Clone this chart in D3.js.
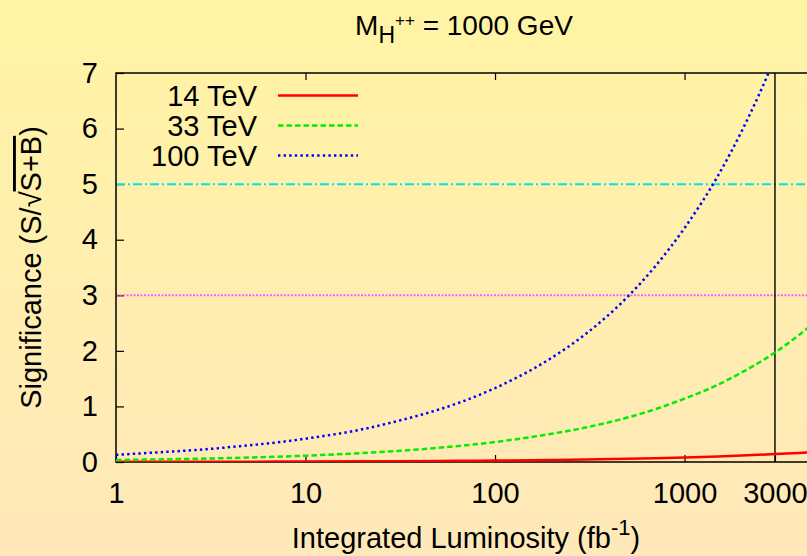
<!DOCTYPE html>
<html>
<head>
<meta charset="utf-8">
<script src="https://cdn.jsdelivr.net/npm/d3@7"></script>
<style>
  html, body { margin: 0; padding: 0; background: #fff; }
  svg { display: block; font-family: "Liberation Sans", Arial, Helvetica, sans-serif; }
</style>
</head>
<body>
<svg id="chart" width="807" height="556"></svg>
<script>
// Integrated luminosity sample points (fb^-1)
const luminosity = [1, 2, 3, 5, 7, 10, 20, 30, 50, 70, 100, 200, 300, 500, 700, 1000, 1500, 2000, 3000, 4000, 5000];
// Significance S/sqrt(S+B) for each collider energy
const sig14TeV  = [0.003, 0.004, 0.005, 0.006, 0.007, 0.008, 0.012, 0.014, 0.018, 0.022, 0.026, 0.037, 0.045, 0.058, 0.069, 0.082, 0.100, 0.116, 0.142, 0.164, 0.184];
const sig33TeV  = [0.036, 0.051, 0.062, 0.080, 0.095, 0.114, 0.161, 0.197, 0.255, 0.300, 0.360, 0.510, 0.620, 0.800, 0.950, 1.140, 1.390, 1.610, 1.970, 2.280, 2.550];
const sig100TeV = [0.13, 0.19, 0.23, 0.30, 0.35, 0.42, 0.59, 0.73, 0.94, 1.11, 1.33, 1.88, 2.30, 2.97, 3.52, 4.21, 5.15, 5.95, 7.28, 8.41, 9.40];

const seriesNames = ["14 TeV", "33 TeV", "100 TeV"];
const xTickValues = [1, 10, 100, 1000, 3000];
const xMirrorTicks = [10, 100, 1000];
const yTickValues = [0, 1, 2, 3, 4, 5, 6, 7];
const discoveryLevel = 5;
const evidenceLevel = 3;
const highLumiTarget = 3000;

const svg = d3.select("#chart");
const W = 807, H = 556;
const plot = { left: 116, right: 817, top: 73, bottom: 462 };

// background gradient
const defs = svg.append("defs");
const grad = defs.append("linearGradient").attr("id", "bg").attr("x1", 0).attr("y1", 0).attr("x2", 0).attr("y2", 1);
grad.append("stop").attr("offset", "0%").attr("stop-color", "#fff4a4");
grad.append("stop").attr("offset", "100%").attr("stop-color", "#ffe8b9");
svg.append("rect").attr("width", W).attr("height", H).attr("fill", "url(#bg)");

defs.append("clipPath").attr("id", "plotclip").append("rect")
  .attr("x", plot.left).attr("y", plot.top)
  .attr("width", plot.right - plot.left).attr("height", plot.bottom - plot.top);

const x = d3.scaleLog().domain([1, 5000]).range([plot.left, plot.right]);
const y = d3.scaleLinear().domain([0, 7]).range([plot.bottom, plot.top]);

const FS = 29;

// axes (ticks drawn inward)
const xAxis = d3.axisBottom(x).tickValues(xTickValues).tickFormat(d3.format("d"))
  .tickSize(-7).tickPadding(20);
const gx = svg.append("g").attr("transform", `translate(0,${plot.bottom})`).call(xAxis);
gx.select(".domain").remove();
gx.selectAll("text").attr("font-size", FS).attr("font-family", null).attr("fill", "#000");
gx.selectAll("line").attr("stroke", "#000").attr("stroke-width", 1.2);

const xTop = d3.axisTop(x).tickValues(xMirrorTicks).tickFormat("").tickSize(-7);
const gxt = svg.append("g").attr("transform", `translate(0,${plot.top})`).call(xTop);
gxt.select(".domain").remove();
gxt.selectAll("line").attr("stroke", "#000").attr("stroke-width", 1.2);

const yAxis = d3.axisLeft(y).tickValues(yTickValues).tickFormat(d3.format("d"))
  .tickSize(-8).tickPadding(18);
const gy = svg.append("g").attr("transform", `translate(${plot.left},0)`).call(yAxis);
gy.select(".domain").remove();
gy.selectAll("text").attr("font-size", FS).attr("font-family", null).attr("fill", "#000");
gy.selectAll("line").attr("stroke", "#000").attr("stroke-width", 1.2);

// reference lines
const plotG = svg.append("g").attr("clip-path", "url(#plotclip)");
plotG.append("line")
  .attr("x1", plot.left).attr("x2", plot.right)
  .attr("y1", y(discoveryLevel)).attr("y2", y(discoveryLevel))
  .attr("stroke", "#00e4e4").attr("stroke-width", 2)
  .attr("stroke-dasharray", "9,3,2,3");
plotG.append("line")
  .attr("x1", plot.left).attr("x2", plot.right)
  .attr("y1", y(evidenceLevel)).attr("y2", y(evidenceLevel))
  .attr("stroke", "#ff5cff").attr("stroke-width", 2)
  .attr("stroke-dasharray", "2,1.5");
plotG.append("line")
  .attr("x1", x(highLumiTarget)).attr("x2", x(highLumiTarget))
  .attr("y1", plot.top).attr("y2", plot.bottom)
  .attr("stroke", "#000").attr("stroke-width", 1.4);

// frame
svg.append("rect")
  .attr("x", plot.left).attr("y", plot.top)
  .attr("width", plot.right - plot.left).attr("height", plot.bottom - plot.top)
  .attr("fill", "none").attr("stroke", "#000").attr("stroke-width", 1.5);

// significance curves
const series = [
  { name: seriesNames[0], values: sig14TeV,  color: "#ff0000", dash: null },
  { name: seriesNames[1], values: sig33TeV,  color: "#00ee00", dash: "5.5,3" },
  { name: seriesNames[2], values: sig100TeV, color: "#0000ff", dash: "2.4,3.2" }
];
const line = d3.line()
  .x(d => x(d[0])).y(d => y(d[1]))
  .curve(d3.curveMonotoneX);
const curvesG = svg.append("g").attr("clip-path", "url(#plotclip)");
series.forEach(s => {
  curvesG.append("path")
    .datum(luminosity.map((l, i) => [l, s.values[i]]))
    .attr("d", line)
    .attr("fill", "none")
    .attr("stroke", s.color)
    .attr("stroke-width", 2.5)
    .attr("stroke-dasharray", s.dash);
});

// legend
const legend = svg.append("g");
series.forEach((s, i) => {
  const yy = 95.5 + i * 30;
  legend.append("text")
    .attr("x", 257).attr("y", yy + 10.3)
    .attr("text-anchor", "end").attr("font-size", FS)
    .text(s.name);
  legend.append("line")
    .attr("x1", 278).attr("x2", 358).attr("y1", yy).attr("y2", yy)
    .attr("stroke", s.color).attr("stroke-width", 2.5)
    .attr("stroke-dasharray", s.dash);
});

// title
const title = svg.append("text")
  .attr("x", 464).attr("y", 35).attr("text-anchor", "middle").attr("font-size", 28);
title.append("tspan").text("M");
title.append("tspan").attr("font-size", 23).attr("dy", 8).text("H");
title.append("tspan").attr("font-size", 17).attr("dy", -17).text("++");
title.append("tspan").attr("dy", 9).text(" = 1000 GeV");

// x-axis label
const xl = svg.append("text")
  .attr("x", 466).attr("y", 548).attr("text-anchor", "middle").attr("font-size", FS);
xl.append("tspan").text("Integrated Luminosity (fb");
xl.append("tspan").attr("font-size", 22).attr("dy", -13).text("-1");
xl.append("tspan").attr("dy", 13).text(")");

// y-axis label
const yl = svg.append("text")
  .attr("transform", `translate(41,${(plot.top + plot.bottom) / 2}) rotate(-90)`)
  .attr("text-anchor", "middle").attr("font-size", FS);
yl.append("tspan").text("Significance (S/\u221A");
yl.append("tspan").attr("text-decoration", "overline").text("S+B");
yl.append("tspan").text(")");
</script>
</body>
</html>
